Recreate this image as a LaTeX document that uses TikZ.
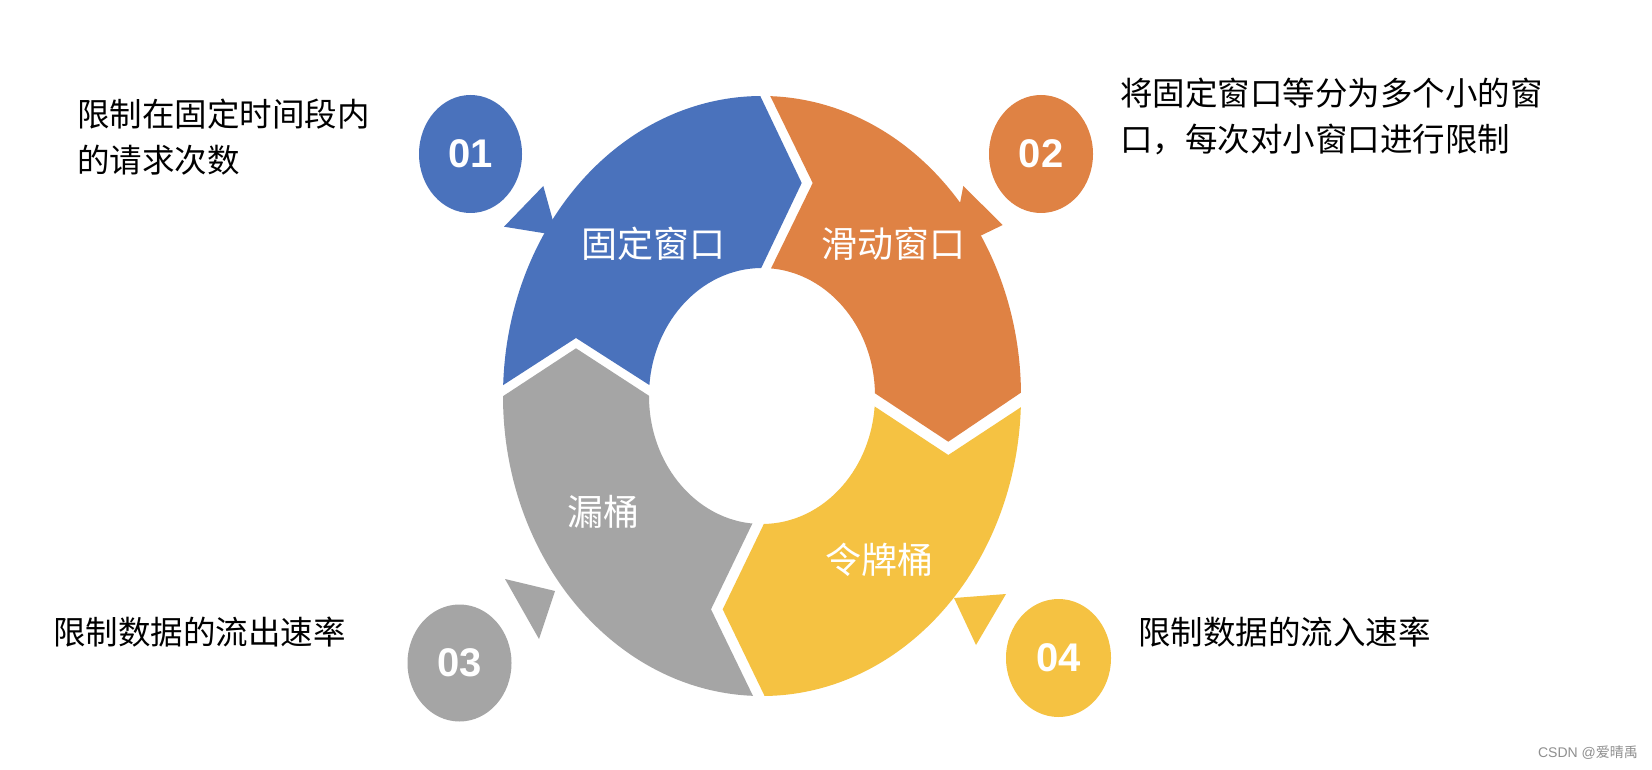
\documentclass[tikz,border=0pt]{standalone}
\usepackage{fontspec}
\setmainfont{Liberation Sans}
\newfontfamily\cjk{Noto Sans CJK SC}
\usetikzlibrary{shapes.geometric}
\definecolor{cblue}{HTML}{4A72BC}
\definecolor{corange}{HTML}{DF8244}
\definecolor{cgray}{HTML}{A5A5A5}
\definecolor{cyellow}{HTML}{F5C242}
\definecolor{cmark}{HTML}{8F8F8F}
\tikzset{
  ringpath/.style={insert path={(762,396) ellipse [x radius=259pt, y radius=300pt] (762,396) ellipse [x radius=113pt, y radius=128pt]}},
  seglabel/.style={text=white, font=\cjk\fontsize{36pt}{40pt}\selectfont, inner sep=0pt},
  desc/.style={text=black, font=\cjk\fontsize{32.5pt}{46pt}\selectfont, inner sep=0pt, anchor=west, align=left},
  badge/.style={ellipse, inner sep=0pt, text=white, font=\bfseries\fontsize{40pt}{44pt}\selectfont},
}
\begin{document}
\begin{tikzpicture}[x=1pt,y=-1pt]
\useasboundingbox (0,0) rectangle (1652,770);
\fill[white] (0,0) rectangle (1652,770);

% blue segment
\begin{scope}
\clip (430.6,432) -- (576,338) -- (693.3,413.2) -- (762,396) -- (741.7,309) -- (801.7,183) -- (721.7,15) -- (400,15) -- (400,432) -- cycle;
\fill[cblue, even odd rule, ringpath];
\end{scope}
% orange segment
\begin{scope}
\clip (730.7,15) -- (812.7,183) -- (751.2,309) -- (762,396) -- (838.3,369.1) -- (948.3,441.7) -- (1091.7,344.9) -- (1120,344.9) -- (1120,15) -- cycle;
\fill[corange, even odd rule, ringpath];
\end{scope}
% yellow segment
\begin{scope}
\clip (1095.1,358.4) -- (948.3,455) -- (838.3,382.5) -- (762,396) -- (783.7,482.8) -- (722.7,609.3) -- (803.9,777.3) -- (1130,777.3) -- (1130,358.4) -- cycle;
\fill[cyellow, even odd rule, ringpath];
\end{scope}
% gray segment
\begin{scope}
\clip (792.4,777.3) -- (711,609.3) -- (772,482.8) -- (762,396) -- (693.3,424.6) -- (576,348.3) -- (430.6,443.7) -- (400,443.7) -- (400,777.3) -- cycle;
\fill[cgray, even odd rule, ringpath];
\end{scope}

% pointer triangles
\fill[cblue] (543.3,186) -- (504,226.7) -- (557,235.3) -- cycle;
\fill[corange] (963.3,186) -- (1002.7,225) -- (951,250) -- cycle;
\fill[cgray] (505,579) -- (555,591) -- (539,639) -- cycle;
\fill[cyellow] (954,598) -- (1006,594) -- (976,645) -- cycle;

% badges
\node[badge, fill=cblue, minimum width=103pt, minimum height=118pt] (b1) at (470.5,154) {01};
\node[badge, fill=corange, minimum width=104pt, minimum height=118pt] (b2) at (1041,154) {02};
\node[badge, fill=cgray, minimum width=104pt, minimum height=117pt] (b3) at (459.5,663) {03};
\node[badge, fill=cyellow, minimum width=105pt, minimum height=118pt] (b4) at (1058.5,658) {04};

% segment labels
\node[seglabel] (s1) at (653,244) {固定窗口};
\node[seglabel] (s2) at (893,244) {滑动窗口};
\node[seglabel] (s3) at (603,512) {漏桶};
\node[seglabel] (s4) at (879,560) {令牌桶};

% descriptions
\node[desc] (d1) at (77,137) {限制在固定时间段内\\的请求次数};
\node[desc] (d2) at (1120,116.5) {将固定窗口等分为多个小的窗\\口，每次对小窗口进行限制};
\node[desc] (d3) at (53,632) {限制数据的流出速率};
\node[desc] (d4) at (1138,632) {限制数据的流入速率};

% watermark
\node[text=cmark, font=\fontsize{14pt}{16pt}\selectfont, inner sep=0pt] (wm) at (1588,753) {CSDN @{\cjk 爱晴禹}};
\end{tikzpicture}
\end{document}
